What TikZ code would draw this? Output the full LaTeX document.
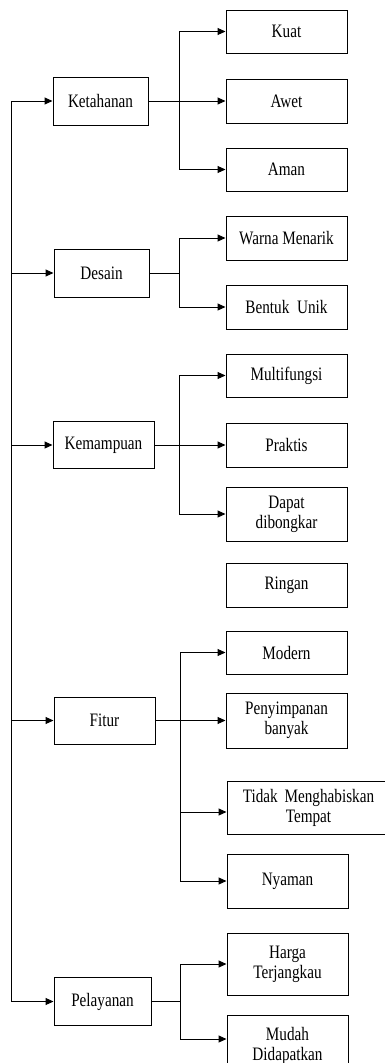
\documentclass[tikz,border=0pt]{standalone}
\usepackage{fontspec}
\setmainfont{Liberation Serif}[FakeStretch=0.8]
\usetikzlibrary{arrows.meta}
\begin{document}
\begin{tikzpicture}[x=1pt,y=-1pt,
  box/.style={draw, line width=1pt, minimum width=121pt, inner sep=0pt, align=center,
              font=\fontsize{19}{20}\selectfont},
  arr/.style={-{Triangle[length=8pt,width=7pt]}, line width=1pt},
  ln/.style={line width=1pt}]
\useasboundingbox (0,0) rectangle (385,1063);
\clip (0,0) rectangle (385,1063);
\fill[white] (0,0) rectangle (385,1063);

% left column
\node[box, minimum width=95pt, minimum height=48pt] (ket) at (100.5,101) {Ketahanan};
\node[box, minimum width=95pt, minimum height=48pt] (des) at (101.5,273) {Desain};
\node[box, minimum width=101pt, minimum height=47pt] (kem) at (103.5,445) {Kemampuan};
\node[box, minimum width=101pt, minimum height=47pt] (fit) at (104.5,720.5) {Fitur};
\node[box, minimum width=97pt, minimum height=48pt] (pel) at (102.5,1001.5) {Pelayanan};

% right column
\node[box, minimum height=43pt] (kuat) at (286.5,31.5) {Kuat};
\node[box, minimum height=44pt] (awet) at (286.5,101) {Awet};
\node[box, minimum height=43pt] (aman) at (286.5,169.5) {Aman};
\node[box, minimum height=44pt] (warna) at (286.5,238) {Warna Menarik};
\node[box, minimum height=44pt] (bentuk) at (286.5,307) {Bentuk\hspace{4pt} Unik};
\node[box, minimum height=43pt] (multi) at (286.5,375.5) {Multifungsi};
\node[box, minimum height=44pt] (praktis) at (286.5,445) {Praktis};
\node[box, minimum height=54pt] (dapat) at (286.5,514) {Dapat\\dibongkar};
\node[box, minimum height=44pt] (ringan) at (286.5,585) {Ringan};
\node[box, minimum height=43pt] (modern) at (286.5,652.5) {Modern};
\node[box, minimum height=55pt] (penyim) at (286.5,720.5) {Penyimpanan\\banyak};
\node[box, minimum width=163pt, minimum height=53pt] (tidak) at (308.5,807.5) {Tidak\hspace{3pt} Menghabiskan\\Tempat};
\node[box, minimum height=54pt] (nyaman) at (287.5,881) {Nyaman};
\node[box, minimum height=62pt] (harga) at (287.5,964) {Harga\\Terjangkau};
\node[box, minimum height=62pt] (mudah) at (287.5,1046) {Mudah\\Didapatkan};

% trunk
\coordinate (tr) at (11,0);
\draw[ln] (tr |- ket.west) -- (tr |- pel.west);
\foreach \n in {ket,des,kem,fit,pel} \draw[arr] (tr |- \n.west) -- (\n.west);

% Ketahanan
\coordinate (bk) at (179,0);
\draw[arr] (ket.east) -- (awet.west);
\draw[ln] (bk |- kuat.west) -- (bk |- aman.west);
\draw[arr] (bk |- kuat.west) -- (kuat.west);
\draw[arr] (bk |- aman.west) -- (aman.west);

% Desain
\draw[ln] (des.east) -- (bk |- des.east);
\draw[ln] (bk |- warna.west) -- (bk |- bentuk.west);
\draw[arr] (bk |- warna.west) -- (warna.west);
\draw[arr] (bk |- bentuk.west) -- (bentuk.west);

% Kemampuan
\draw[arr] (kem.east) -- (praktis.west);
\draw[ln] (bk |- multi.west) -- (bk |- dapat.west);
\draw[arr] (bk |- multi.west) -- (multi.west);
\draw[arr] (bk |- dapat.west) -- (dapat.west);

% Fitur
\coordinate (bf) at (180,0);
\coordinate (ft) at (180,812);
\draw[arr] (fit.east) -- (penyim.west);
\draw[ln] (bf |- modern.west) -- (bf |- nyaman.west);
\draw[arr] (bf |- modern.west) -- (modern.west);
\draw[arr] (ft) -- (tidak.west |- ft);
\draw[arr] (bf |- nyaman.west) -- (nyaman.west);

% Pelayanan
\coordinate (pm) at (180,1039);
\draw[ln] (pel.east) -- (bf |- pel.east);
\draw[ln] (bf |- harga.west) -- (pm);
\draw[arr] (bf |- harga.west) -- (harga.west);
\draw[arr] (pm) -- (mudah.west |- pm);
\end{tikzpicture}
\end{document}
